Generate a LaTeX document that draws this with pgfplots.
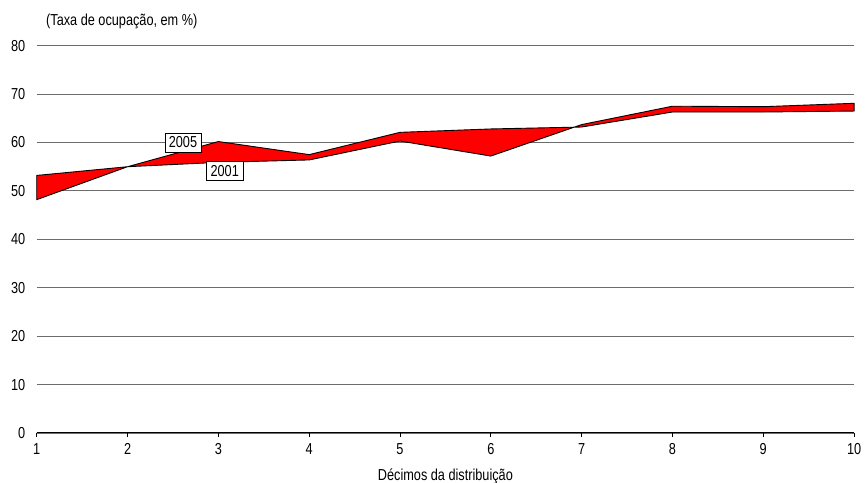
\documentclass[border=0pt]{standalone}
\usepackage{pgfplots}
\pgfplotsset{compat=1.18}
\usepackage{fontspec}
\setmainfont[FakeStretch=0.8]{Liberation Sans}
\begin{document}
\fontsize{16}{18}\selectfont
\begin{tikzpicture}
\begin{axis}[
  scale only axis, width=823pt, height=390pt,
  xmin=1, xmax=10, ymin=0, ymax=80,
  xtick={1,...,10}, ytick={0,10,...,80},
  axis x line*=bottom, axis y line*=left,
  y axis line style={draw=none},
  x axis line style={black, line width=1pt, -},
  ytick style={draw=none},
  xtick style={black, line width=0.7pt},
  tick align=outside, major tick length=4pt,
  ymajorgrids, grid style={gray!85!black, line width=1.1pt},
  yticklabel style={xshift=-2pt},
  xticklabel style={yshift=-1pt},
  xlabel={Décimos da distribuição},
  xlabel style={yshift=-3pt},
  font=\fontsize{16}{18}\selectfont,
  /pgf/number format/assume math mode=true,
  clip=false,
]
% 2005 forward, 2001 backward: closed polygon filled red
\addplot[fill=red, draw=black, line width=0.9pt] coordinates {
  (1,48.2) (2,55.0) (3,60.2) (4,57.5) (5,62.1) (6,62.8) (7,63.2) (8,66.3) (9,66.3) (10,66.5)
  (10,68.1) (9,67.4) (8,67.5) (7,63.7) (6,57.2) (5,60.3) (4,56.4) (3,55.9) (2,55.0) (1,53.2)
} -- cycle;
\node[draw=black, fill=white, inner xsep=4pt, inner ysep=4pt, line width=0.6pt] at (axis cs:2.61,60.0) {2005};
\node[draw=black, fill=white, inner xsep=4pt, inner ysep=4pt, line width=0.6pt] at (axis cs:3.07,54.2) {2001};
\end{axis}
\node[anchor=west] at (4pt,414pt) {(Taxa de ocupação, em \%)};
\pgfresetboundingbox
\useasboundingbox (-37pt,-50pt) rectangle (834pt,436pt);
\end{tikzpicture}
\end{document}
